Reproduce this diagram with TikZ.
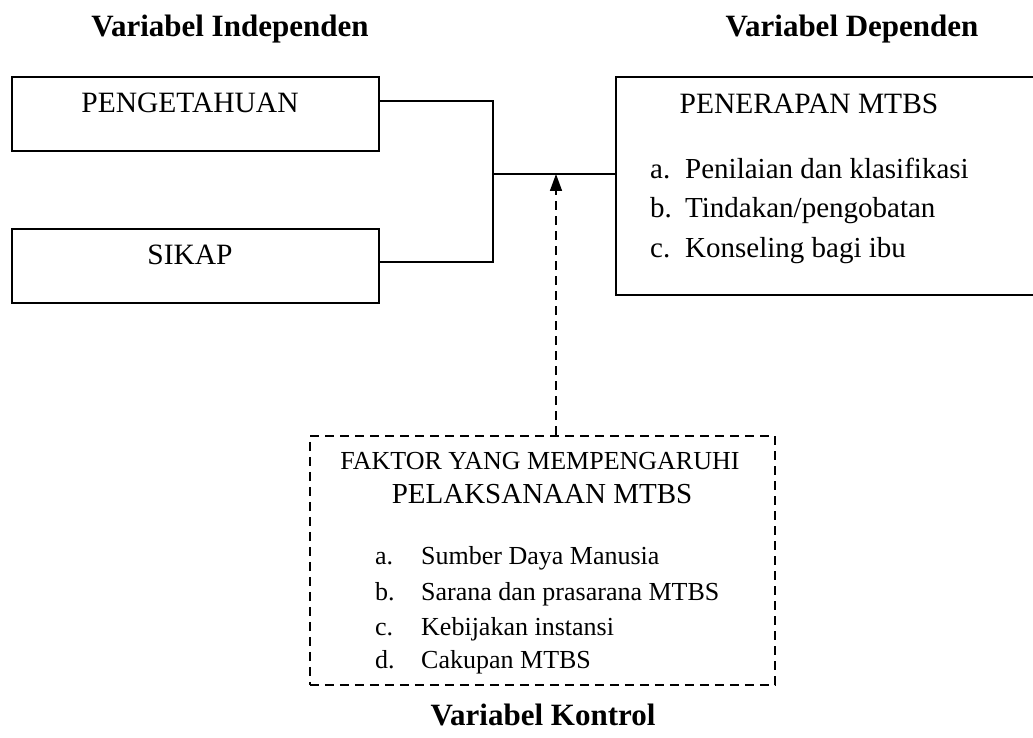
\documentclass[tikz,border=0pt]{standalone}
\usepackage{fontspec}
\setmainfont{Liberation Serif}
\usetikzlibrary{arrows.meta}
\tikzset{
  box/.style={draw, line width=1.8pt, inner sep=0pt, anchor=north west},
  dbox/.style={draw, line width=1.6pt, dash pattern=on 9pt off 6pt, inner sep=0pt, anchor=north west},
  conn/.style={line width=1.8pt},
  dconn/.style={line width=1.6pt, dash pattern=on 9pt off 6pt, -{Triangle[length=17pt,width=12pt]}},
  bigtxt/.style={inner sep=0pt, anchor=base, font=\fontsize{29.5}{34}\selectfont},
  itemtxt/.style={inner sep=0pt, anchor=base west, font=\fontsize{29}{34}\selectfont},
  smalltxt/.style={inner sep=0pt, anchor=base west, font=\fontsize{26}{30}\selectfont},
  title/.style={inner sep=0pt, anchor=base, font=\fontsize{31}{36}\selectfont\bfseries}
}
\begin{document}
\begin{tikzpicture}[x=1pt,y=-1pt]
\useasboundingbox (0,0) rectangle (1033,738);
% titles
\node[title] (tind) at (230,37) {Variabel Independen};
\node[title] (tdep) at (852,37) {Variabel Dependen};
\node[title] (tkon) at (543,725) {Variabel Kontrol};
% boxes
\node[box, minimum width=367pt, minimum height=74pt] (peng) at (11,76) {};
\node[bigtxt] (pengt) at (190,113) {PENGETAHUAN};
\node[box, minimum width=367pt, minimum height=74pt] (sikap) at (11,228) {};
\node[bigtxt] (sikapt) at (190,264) {SIKAP};
\node[box, minimum width=440pt, minimum height=218pt] (pen) at (615,76) {};
\node[bigtxt] (pent) at (809,114) {PENERAPAN MTBS};
\node[itemtxt] (pa) at (650,179) {a.};
\node[itemtxt] (pat) at (685,179) {Penilaian dan klasifikasi};
\node[itemtxt] (pb) at (650,218) {b.};
\node[itemtxt] (pbt) at (685,218) {Tindakan/pengobatan};
\node[itemtxt] (pc) at (650,257) {c.};
\node[itemtxt] (pct) at (685,257) {Konseling bagi ibu};
% dashed box
\node[dbox, minimum width=465pt, minimum height=249pt] (fak) at (309,435) {};
\node[inner sep=0pt, anchor=base, font=\fontsize{26}{30}\selectfont] (fak1) at (540,469) {FAKTOR YANG MEMPENGARUHI};
\node[inner sep=0pt, anchor=base, font=\fontsize{29}{34}\selectfont] (fak2) at (542,503) {PELAKSANAAN MTBS};
\node[smalltxt] (fa) at (375,564) {a.};
\node[smalltxt] (fat) at (421,564) {Sumber Daya Manusia};
\node[smalltxt] (fb) at (375,600) {b.};
\node[smalltxt] (fbt) at (421,600) {Sarana dan prasarana MTBS};
\node[smalltxt] (fc) at (375,635) {c.};
\node[smalltxt] (fct) at (421,635) {Kebijakan instansi};
\node[smalltxt] (fd) at (375,668) {d.};
\node[smalltxt] (fdt) at (421,668) {Cakupan MTBS};
% connectors
\coordinate (j) at (493,174);
\coordinate (ah) at (556,174);
\draw[conn] ([yshift=-25pt]peng.north east) -| (j);
\draw[conn] ([yshift=-34pt]sikap.north east) -| (j);
\draw[conn] (j) -- (j -| pen.west);
\draw[dconn] (fak.north -| ah) -- (ah);
\end{tikzpicture}
\end{document}
